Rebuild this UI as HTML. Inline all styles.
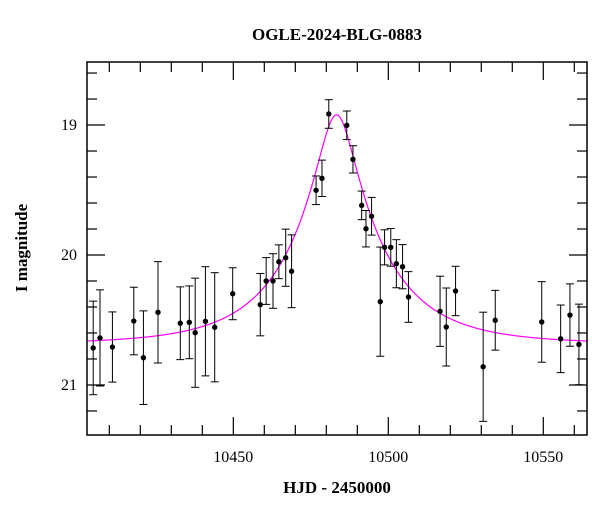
<!DOCTYPE html>
<html><head><meta charset="utf-8"><style>
html,body{margin:0;padding:0;background:#fff;}
svg text{font-family:"Liberation Serif",serif;fill:#000;}
</style></head><body>
<svg id="chart" width="600" height="512" viewBox="0 0 600 512" xmlns="http://www.w3.org/2000/svg">
<text x="337" y="40" text-anchor="middle" font-size="17" font-weight="bold">OGLE-2024-BLG-0883</text>
<text x="337" y="493" text-anchor="middle" font-size="17" font-weight="bold">HJD - 2450000</text>
<text transform="translate(27,248) rotate(-90)" text-anchor="middle" font-size="17" font-weight="bold">I magnitude</text>
<g id="ticks"></g>
<g id="model"></g>
<g id="points"></g>
<rect x="87" y="62" width="500" height="373" fill="none" stroke="#000" stroke-width="1.5"/>
</svg>
<script>
const hjd = [10404.8,10407.0,10411.0,10417.9,10421.0,10425.7,10432.9,10435.8,10437.7,10441.0,10444.0,10449.8,10458.7,10460.6,10462.8,10464.7,10466.9,10468.8,10476.7,10478.6,10480.8,10486.6,10488.6,10491.4,10492.8,10494.6,10497.4,10498.8,10500.8,10502.6,10504.6,10506.5,10516.7,10518.7,10521.7,10530.6,10534.5,10549.5,10555.6,10558.6,10561.5];
const mag = [20.715,20.638,20.708,20.508,20.79,20.441,20.525,20.518,20.598,20.51,20.556,20.298,20.382,20.2,20.2,20.052,20.021,20.125,19.502,19.41,18.915,19.002,19.264,19.618,19.798,19.702,20.359,19.941,19.941,20.067,20.09,20.323,20.433,20.554,20.277,20.86,20.502,20.515,20.645,20.462,20.688];
const magErr = [0.36,0.37,0.27,0.26,0.36,0.39,0.28,0.28,0.42,0.42,0.42,0.20,0.24,0.18,0.21,0.13,0.22,0.28,0.11,0.14,0.11,0.11,0.105,0.11,0.14,0.145,0.42,0.135,0.145,0.185,0.17,0.195,0.27,0.30,0.19,0.42,0.23,0.31,0.26,0.24,0.31];
const xTicksMajor = [10450,10500,10550];
const yTicksMajor = [19,20,21];
const modelT0 = [10483.3];
const modelU0 = [0.2];
const modelTE = [29];
const modelBase = [20.685];

const X0=87,X1=587,Y0=62,Y1=435;
const xMin=10402.8,xMax=10564.1,yMin=18.515,yMax=21.385;
const sx=v=>X0+(v-xMin)/(xMax-xMin)*(X1-X0);
const sy=v=>Y0+(v-yMin)/(yMax-yMin)*(Y1-Y0);
const NS='http://www.w3.org/2000/svg';
function mk(tag,attrs,parent){const e=document.createElementNS(NS,tag);for(const k in attrs)e.setAttribute(k,attrs[k]);parent.appendChild(e);return e;}

const tg=document.getElementById('ticks');
for(let t=10410;t<=10560;t+=10){
  const major=xTicksMajor.includes(t);const L=major?18:10;const x=sx(t);
  const a=mk('line',{x1:x,x2:x,y1:Y1,y2:Y1-L,stroke:'#000','stroke-width':1.2},tg);
  
  
  const b=mk('line',{x1:x,x2:x,y1:Y0,y2:Y0+L,stroke:'#000','stroke-width':1.2},tg);
  
  
  if(major){const tx=mk('text',{x:x,y:Y1+27,'text-anchor':'middle','font-size':16},tg);tx.textContent=t;
    
    }
}
for(let i=0;i<=13;i++){
  const v=18.6+i*0.2;const major=yTicksMajor.some(m=>Math.abs(m-v)<1e-6);const L=major?18:10;const y=sy(v);
  const a=mk('line',{x1:X0,x2:X0+L,y1:y,y2:y,stroke:'#000','stroke-width':1.2},tg);
  
  
  const b=mk('line',{x1:X1,x2:X1-L,y1:y,y2:y,stroke:'#000','stroke-width':1.2},tg);
  
  
  if(major){const tx=mk('text',{x:X0-10,y:y+5,'text-anchor':'end','font-size':16},tg);tx.textContent=Math.round(v);
    
    }
}

const mg=document.getElementById('model');
let d='';
for(let t=xMin;t<=xMax;t+=0.25){
  const tau=(t-modelT0[0])/modelTE[0];const u=Math.sqrt(modelU0[0]*modelU0[0]+tau*tau);
  const A=(u*u+2)/(u*Math.sqrt(u*u+4));const m=modelBase[0]-2.5*Math.log10(A);
  d+=(d?'L':'M')+sx(t).toFixed(2)+','+sy(m).toFixed(2);
}
const path=mk('path',{d:d,fill:'none',stroke:'#ff00ff','stroke-width':1.2},mg);



const pg=document.getElementById('points');
for(let i=0;i<hjd.length;i++){
  const x=sx(hjd[i]),y=sy(mag[i]),yt=sy(mag[i]-magErr[i]),yb=sy(mag[i]+magErr[i]);
  const g=mk('g',{},pg);
  
  
  mk('line',{x1:x,x2:x,y1:yt,y2:yb,stroke:'#000','stroke-width':1},g);
  mk('line',{x1:x-4,x2:x+4,y1:yt,y2:yt,stroke:'#000','stroke-width':1},g);
  mk('line',{x1:x-4,x2:x+4,y1:yb,y2:yb,stroke:'#000','stroke-width':1},g);
  mk('circle',{cx:x,cy:y,r:2.7,fill:'#000'},g);
}
</script>
</body></html>
